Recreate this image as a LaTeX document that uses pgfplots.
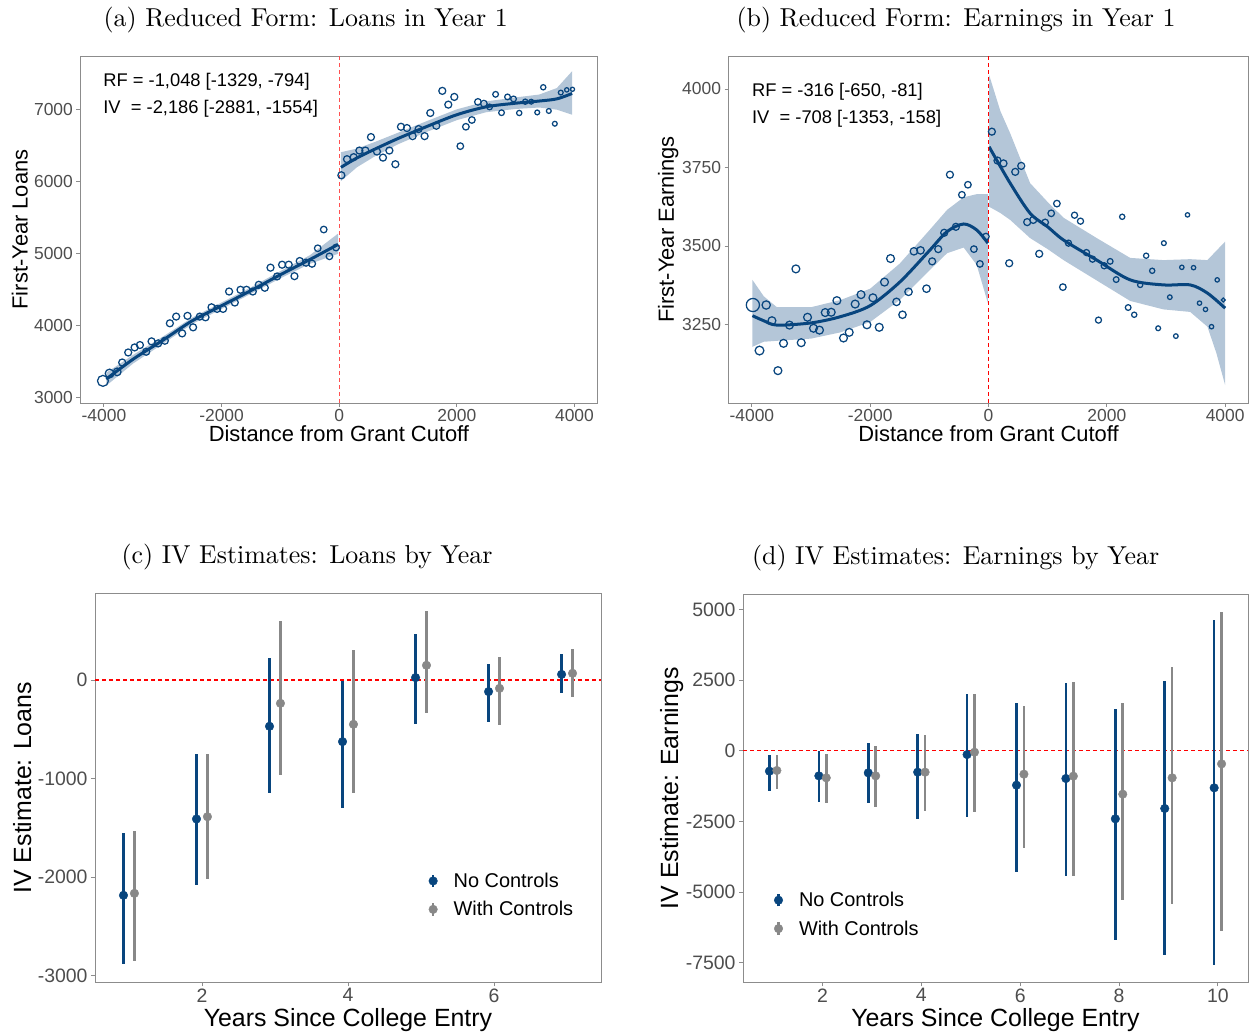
\documentclass[border=0pt]{standalone}
\usepackage{fontspec}
\setsansfont{Liberation Sans}
\newfontfamily\titlefont{lmroman10-regular.otf}
\usepackage{pgfplots}
\usepackage{pgfplotstable}
\pgfplotsset{compat=1.18}
\definecolor{navy}{RGB}{8,69,126}
\definecolor{bandc}{RGB}{180,198,216}
\definecolor{greyc}{RGB}{136,136,136}
\definecolor{bordc}{RGB}{140,140,140}
\definecolor{tickc}{RGB}{77,77,77}
\definecolor{pinkred}{RGB}{255,80,80}

% ---------- panel (a) data ----------
\pgfplotstableread{
x y s
-4017 3237 5
-3904 3339 4
-3774 3362 3.5
-3689 3492 3.2
-3587 3631 3.2
-3478 3701 3.2
-3388 3734 3.2
-3281 3641 3.2
-3190 3785 3.2
-3078 3757 3.2
-2964 3794 3.2
-2879 4036 3.2
-2772 4129 3.2
-2670 3896 3.2
-2579 4139 3.2
-2484 3980 3.2
-2370 4129 3.2
-2273 4119 3.2
-2171 4258 3.2
-2076 4236 3.2
-1974 4236 3.2
-1872 4477 3.2
-1775 4324 3.2
-1678 4501 3.2
-1576 4501 3.2
-1469 4477 3.2
-1367 4570 3.2
-1265 4529 3.2
-1168 4808 3.2
-1056 4686 3.2
-971 4849 3.2
-858 4849 3.2
-761 4690 3.2
-671 4900 3.2
-564 4877 3.2
-462 4863 3.2
-365 5077 3
-263 5337 3
-166 4965 3
-54 5087 3
37 6090 3.2
133 6313 3.2
246 6341 3.2
343 6433 3.2
445 6433 3.2
540 6620 3.2
642 6419 3.2
744 6335 3.2
853 6433 3.2
955 6243 3.2
1050 6763 3.2
1152 6745 3.2
1248 6633 3.2
1350 6731 3.2
1452 6633 3.2
1549 6954 3.2
1651 6777 3.2
1753 7261 3.2
1855 7070 3.2
1957 7177 3.2
2059 6494 3.0
2154 6763 3.0
2256 6857 3.0
2358 7108 3.0
2460 7084 3.0
2557 7038 2.6
2659 7213 2.6
2760 6958 2.6
2862 7177 2.6
2964 7149 2.6
3061 6954 2.4
3163 7111 2.4
3265 7111 2.2
3367 6962 2.2
3469 7311 2.4
3564 6982 2.2
3666 6805 2.2
3767 7237 2.2
3869 7275 2.0
3966 7283 1.9
}\aPts
% fitted line, left and right of cutoff
\pgfplotstableread{
x y
-3960 3262
-3500 3540
-3000 3800
-2500 4070
-2000 4280
-1500 4490
-1000 4710
-500 4920
-20 5130
}\aL
\pgfplotstableread{
x y
30 6200
300 6330
600 6450
1000 6600
1500 6770
2000 6930
2500 7040
3000 7090
3400 7120
3700 7150
3960 7225
}\aR
% confidence bands as closed outlines (upper edge, then lower edge back)
\pgfplotstableread{
x y
-3960 3350
-3500 3600
-3000 3850
-2500 4115
-2000 4325
-1500 4535
-1000 4760
-500 4980
-20 5280
-20 5000
-500 4860
-1000 4660
-1500 4445
-2000 4235
-2500 4025
-3000 3750
-3500 3480
-3960 3170
}\aLband
\pgfplotstableread{
x y
30 6410
300 6460
600 6550
1000 6680
1500 6845
2000 7005
2500 7115
3000 7170
3400 7210
3700 7300
3960 7534
3960 6930
3700 7000
3400 7030
3000 7010
2500 6965
2000 6855
1500 6695
1000 6520
600 6350
300 6200
30 6010
}\aRband

% ---------- panel (b) data ----------
\pgfplotstableread{
x y s
-3983 3312 6
-3871 3167 4
-3758 3312 3.8
-3661 3262 3.6
-3560 3103 3.6
-3465 3190 3.6
-3364 3248 3.6
-3256 3427 3.6
-3166 3192 3.6
-3059 3273 3.6
-2958 3238 3.6
-2857 3232 3.6
-2760 3288 3.6
-2659 3289 3.6
-2563 3326 3.6
-2451 3207 3.6
-2355 3225 3.6
-2254 3315 3.6
-2155 3345 3.6
-2055 3249 3.6
-1954 3335 3.6
-1847 3241 3.6
-1758 3385 3.6
-1656 3460 3.6
-1555 3322 3.4
-1454 3281 3.4
-1352 3354 3.4
-1261 3483 3.4
-1149 3486 3.4
-1048 3364 3.4
-952 3451 3.2
-850 3490 3.2
-749 3542 3.2
-652 3727 3.2
-551 3561 3.2
-450 3663 3.0
-348 3695 3.0
-247 3490 3.0
-145 3443 3.0
-44 3530 3.0
57 3864 3.2
152 3772 3.2
254 3763 3.2
350 3445 3.2
452 3736 3.2
553 3755 3.2
654 3576 3.2
756 3583 3.2
857 3475 3.2
958 3575 3.0
1060 3604 3.0
1156 3635 3.0
1257 3369 3.0
1352 3509 2.8
1454 3598 2.8
1555 3579 2.8
1656 3479 2.8
1758 3458 2.8
1859 3264 2.8
1956 3437 2.8
2057 3451 2.6
2158 3393 2.6
2260 3593 2.4
2361 3304 2.6
2463 3281 2.4
2564 3376 2.4
2665 3469 2.4
2767 3421 2.4
2868 3238 2.2
2964 3509 2.2
3065 3337 2.1
3167 3213 2.1
3268 3432 2.0
3364 3599 2.0
3466 3431 2.0
3567 3318 2.0
3668 3298 2.0
3770 3243 2.0
3866 3392 2.0
3968 3328 1.8
}\bPts
\pgfplotstableread{
x y
-3990 3278
-3800 3262
-3577 3248
-3000 3255
-2500 3275
-2000 3310
-1500 3385
-1000 3485
-700 3546
-420 3570
-200 3551
-10 3509
}\bL
\pgfplotstableread{
x y
10 3816
366 3700
704 3604
1000 3561
1268 3519
1831 3455
2395 3392
2958 3376
3409 3376
3700 3350
4000 3302
}\bR
\pgfplotstableread{
x y
-3990 3392
-3800 3340
-3577 3305
-3000 3305
-2500 3328
-2000 3364
-1500 3444
-1000 3550
-700 3615
-420 3655
-200 3665
-10 3665
-10 3318
-200 3440
-420 3495
-700 3477
-1000 3422
-1500 3328
-2000 3258
-2500 3225
-3000 3205
-3577 3198
-3800 3195
-3990 3179
}\bLband
\pgfplotstableread{
x y
10 4045
200 3930
366 3859
704 3700
1000 3640
1268 3590
1831 3525
2395 3462
2958 3455
3409 3458
3700 3455
4000 3514
4000 3057
3850 3160
3700 3243
3409 3290
2958 3298
2395 3325
1831 3390
1268 3455
1000 3490
704 3525
366 3583
200 3605
10 3625
}\bRband

% ---------- panel (c) data ----------
\pgfplotstableread{
x y hi lo
0.925 -2186 -1554 -2881
1.925 -1411 -748 -2084
2.925 -470 226 -1150
3.925 -626 -13 -1303
4.925 24 470 -444
5.925 -118 166 -423
6.925 57 264 -135
}\cNC
\pgfplotstableread{
x y hi lo
1.075 -2166 -1536 -2853
2.075 -1388 -748 -2023
3.075 -237 596 -964
4.075 -450 305 -1150
5.075 149 697 -338
6.075 -85 237 -454
7.075 68 312 -169
}\cWC

% ---------- panel (d) data ----------
\pgfplotstableread{
x y hi lo
0.925 -718 -163 -1436
1.925 -884 -11 -1826
2.925 -778 272 -1861
3.925 -754 614 -2404
4.925 -130 2028 -2334
5.925 -1214 1697 -4277
6.925 -978 2418 -4443
7.925 -2404 1485 -6683
8.925 -2039 2463 -7235
9.925 -1308 4621 -7568
}\dNC
\pgfplotstableread{
x y hi lo
1.075 -694 -152 -1355
2.075 -954 -117 -1838
3.075 -884 190 -2002
4.075 -754 566 -2144
5.075 -47 2005 -2180
6.075 -825 1591 -3453
7.075 -896 2453 -4419
8.075 -1532 1710 -5269
9.075 -954 2983 -5422
10.075 -460 4916 -6377
}\dWC

\pgfplotsset{
  base/.style={
    scale only axis,
    anchor=south west,
    axis line style={draw=bordc, line width=0.9bp},
    tick style={draw=bordc, line width=0.9bp},
    tick align=outside,
    major tick length=4bp,
    xtick pos=lower, ytick pos=left,
    minor tick num=0,
    scaled ticks=false,
    /pgf/number format/assume math mode=true,
    /pgf/number format/1000 sep={},
    title style={font=\titlefont\fontsize{26}{30}\selectfont, anchor=center, inner sep=0pt},
  },
  top/.style={
    base,
    ticklabel style={font=\sffamily\fontsize{17.5}{20}\selectfont, text=tickc},
    xticklabel style={inner sep=1bp, yshift=-1bp},
    label style={font=\sffamily\fontsize{22}{26}\selectfont, inner sep=0pt},
    xlabel style={at={(axis description cs:0.5,-0.0875)}, anchor=center},
  },
  bottom/.style={
    base,
    ticklabel style={font=\sffamily\fontsize{19.5}{22}\selectfont, text=tickc},
    xticklabel style={inner sep=1bp, yshift=-1bp},
    label style={font=\sffamily\fontsize{25}{29}\selectfont, inner sep=0pt},
    xlabel style={at={(axis description cs:0.5,-0.0975)}, anchor=center},
  },
  pts/.style={
    scatter, only marks, mark=o,
    scatter/use mapped color={draw=navy},
    point meta=\thisrow{s},
    visualization depends on={1.1*\thisrow{s}\as\msize},
    scatter/@pre marker code/.append style={/tikz/mark size=\msize pt},
    mark options={line width=1.25bp},
  },
  ebar/.style={
    only marks, mark=*, mark size=4.3bp,
    error bars/y dir=both,
    error bars/y explicit,
    error bars/error mark=none,
  },
  leg/.style={
    legend style={draw=none, fill=none, font=\sffamily\fontsize{20}{24}\selectfont,
      row sep=8.5bp, cells={anchor=west}, inner sep=0pt},
    legend image code/.code={
      \draw[line width=2.6bp] (0.3em,-0.62em) -- (0.3em,0.62em);
      \fill (0.3em,0) circle (4.3bp);
      \path[draw=none, fill=none] (0.3em,0) -- ++(18.5bp,0);
    },
  },
}

\begin{document}
\begin{tikzpicture}

% ================= (a) =================
\begin{axis}[top,
  at={(80.4bp,632bp)}, width=517bp, height=347bp,
  xmin=-4400, xmax=4390, ymin=2930, ymax=7745,
  xtick={-4000,-2000,0,2000,4000},
  ytick={3000,4000,5000,6000,7000},
  xlabel={Distance from Grant Cutoff},
  ylabel={First-Year Loans},
  ylabel style={at={(axis description cs:-0.117,0.5)}, anchor=center},
  title={(a) Reduced Form: Loans in Year 1},
  title style={at={(axis description cs:0.436,1.086)}},
]
\addplot[fill=bandc, draw=none] table[x=x,y=y]{\aLband} -- cycle;
\addplot[fill=bandc, draw=none] table[x=x,y=y]{\aRband} -- cycle;
\addplot[pts] table[x=x,y=y]{\aPts};
\addplot[navy, line width=3bp, smooth] table[x=x,y=y]{\aL};
\addplot[navy, line width=3bp, smooth] table[x=x,y=y]{\aR};
\addplot[pinkred, line width=1.2bp, dash pattern=on 4bp off 3bp] coordinates {(0,2930) (0,7745)};
\node[anchor=west, font=\sffamily\fontsize{18.4}{22}\selectfont, inner sep=0pt] at (axis description cs:0.044,0.925) {RF = -1,048 [-1329, -794]};
\node[anchor=west, font=\sffamily\fontsize{18.4}{22}\selectfont, inner sep=0pt] at (axis description cs:0.044,0.847) {IV\ \ = -2,186 [-2881, -1554]};
\end{axis}

% ================= (b) =================
\begin{axis}[top,
  at={(728.5bp,632bp)}, width=520bp, height=347bp,
  xmin=-4395, xmax=4395, ymin=3000, ymax=4105,
  xtick={-4000,-2000,0,2000,4000},
  ytick={3250,3500,3750,4000},
  xlabel={Distance from Grant Cutoff},
  ylabel={First-Year Earnings},
  ylabel style={at={(axis description cs:-0.116,0.5)}, anchor=center},
  title={(b) Reduced Form: Earnings in Year 1},
  title style={at={(axis description cs:0.4375,1.086)}},
]
\addplot[fill=bandc, draw=none] table[x=x,y=y]{\bLband} -- cycle;
\addplot[fill=bandc, draw=none] table[x=x,y=y]{\bRband} -- cycle;
\addplot[pts] table[x=x,y=y]{\bPts};
\addplot[navy, line width=3bp, smooth] table[x=x,y=y]{\bL};
\addplot[navy, line width=3bp, smooth] table[x=x,y=y]{\bR};
\addplot[red, line width=1.1bp, dash pattern=on 4bp off 3bp] coordinates {(0,3000) (0,4105)};
\node[anchor=west, font=\sffamily\fontsize{18.4}{22}\selectfont, inner sep=0pt] at (axis description cs:0.045,0.896) {RF = -316 [-650, -81]};
\node[anchor=west, font=\sffamily\fontsize{18.4}{22}\selectfont, inner sep=0pt] at (axis description cs:0.045,0.818) {IV\ \ = -708 [-1353, -158]};
\end{axis}

% ================= (c) =================
\begin{axis}[bottom, leg,
  at={(95bp,52.7bp)}, width=506bp, height=389bp,
  xmin=0.535, xmax=7.465, ymin=-3069, ymax=880,
  xtick={2,4,6},
  ytick={-3000,-2000,-1000,0},
  xlabel={Years Since College Entry},
  ylabel={IV Estimate: Loans},
  ylabel style={at={(axis description cs:-0.144,0.5)}, anchor=center},
  title={(c) IV Estimates: Loans by Year},
  title style={at={(axis description cs:0.419,1.077)}},
  legend style={at={(axis description cs:0.659,0.224)}, anchor=west},
]
\addplot[red, line width=1.1bp, dash pattern=on 4bp off 3bp, forget plot] coordinates {(0.535,0) (7.465,0)};
\addplot[navy, ebar, forget plot, error bars/error bar style={line width=2.6bp, navy}] table[x=x, y=y, y error plus expr=\thisrow{hi}-\thisrow{y}, y error minus expr=\thisrow{y}-\thisrow{lo}]{\cNC};
\addplot[greyc, ebar, forget plot, error bars/error bar style={line width=2.6bp, greyc}] table[x=x, y=y, y error plus expr=\thisrow{hi}-\thisrow{y}, y error minus expr=\thisrow{y}-\thisrow{lo}]{\cWC};
\addlegendimage{navy}
\addlegendentry{No Controls}
\addlegendimage{greyc}
\addlegendentry{With Controls}
\end{axis}

% ================= (d) =================
\begin{axis}[bottom, leg,
  at={(743bp,52.7bp)}, width=505bp, height=388bp,
  xmin=0.39, xmax=10.61, ymin=-8190, ymax=5541,
  xtick={2,4,6,8,10},
  ytick={-7500,-5000,-2500,0,2500,5000},
  xlabel={Years Since College Entry},
  ylabel={IV Estimate: Earnings},
  ylabel style={at={(axis description cs:-0.141,0.5)}, anchor=center},
  title={(d) IV Estimates: Earnings by Year},
  title style={at={(axis description cs:0.421,1.079)}},
  legend style={at={(axis description cs:0.061,0.175)}, anchor=west},
]
\addplot[red, line width=1.1bp, dash pattern=on 4bp off 3bp, forget plot] coordinates {(0.39,0) (10.61,0)};
\addplot[navy, ebar, forget plot, error bars/error bar style={line width=2.6bp, navy}] table[x=x, y=y, y error plus expr=\thisrow{hi}-\thisrow{y}, y error minus expr=\thisrow{y}-\thisrow{lo}]{\dNC};
\addplot[greyc, ebar, forget plot, error bars/error bar style={line width=2.6bp, greyc}] table[x=x, y=y, y error plus expr=\thisrow{hi}-\thisrow{y}, y error minus expr=\thisrow{y}-\thisrow{lo}]{\dWC};
\addlegendimage{navy}
\addlegendentry{No Controls}
\addlegendimage{greyc}
\addlegendentry{With Controls}
\end{axis}
\pgfresetboundingbox
\path[use as bounding box] (0,0) rectangle (1252bp,1035bp);
\end{tikzpicture}
\end{document}
